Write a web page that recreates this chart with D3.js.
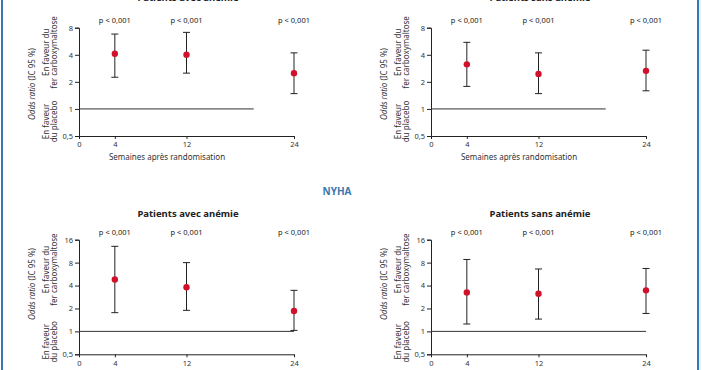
<!DOCTYPE html>
<html>
<head>
<meta charset="utf-8">
<script src="https://cdn.jsdelivr.net/npm/d3@7"></script>
<style>
  body { margin: 0; background: #fff; }
  svg { display: block; font-family: "Noto Sans", sans-serif; }
</style>
</head>
<body>
<svg id="chart" width="702" height="370"></svg>
<script>
// Data
const weeks = [4, 12, 24];
const xTicks = [0, 4, 12, 24];
const pLabels = ["p < 0,001", "p < 0,001", "p < 0,001"];
const topTicks = [0.5, 1, 2, 4, 8];
const bottomTicks = [0.5, 1, 2, 4, 8, 16];

const topLeftOR = [4.1, 4.0, 2.5];
const topLeftLow = [2.25, 2.5, 1.48];
const topLeftHigh = [6.8, 7.1, 4.2];

const topRightOR = [3.13, 2.45, 2.65];
const topRightLow = [1.78, 1.48, 1.59];
const topRightHigh = [5.5, 4.2, 4.5];

const withAnemiaOR = [4.8, 3.8, 1.85];
const withAnemiaLow = [1.76, 1.89, 1.03];
const withAnemiaHigh = [13.1, 8.0, 3.46];

const withoutAnemiaOR = [3.25, 3.12, 3.46];
const withoutAnemiaLow = [1.25, 1.45, 1.72];
const withoutAnemiaHigh = [8.8, 6.6, 6.7];

const svg = d3.select('#chart');

// Frame borders
svg.append('line').attr('x1', 2).attr('x2', 2).attr('y1', 0).attr('y2', 370)
    .attr('stroke', '#3a78b0').attr('stroke-width', 2);
svg.append('line').attr('x1', 698).attr('x2', 698).attr('y1', 0).attr('y2', 370)
    .attr('stroke', '#3a78b0').attr('stroke-width', 2);
svg.append('line').attr('x1', 700).attr('x2', 700).attr('y1', 0).attr('y2', 370)
    .attr('stroke', '#bfe6f3').attr('stroke-width', 1);

// Section heading
svg.append('text')
    .attr('x', 337).attr('y', 195)
    .attr('text-anchor', 'middle')
    .attr('font-size', 10).attr('font-weight', 'bold')
    .attr('fill', '#3a78b0')
    .text('NYHA');

function drawPanel(opt) {
    const g = svg.append('g');
    const x = d3.scaleLinear().domain([0, 24]).range([opt.left, opt.left + 215]);
    const y = d3.scaleLog().base(2)
        .domain([0.5, opt.ticks[opt.ticks.length - 1]])
        .range([opt.bottom, opt.top]);

    // title
    g.append('text')
        .attr('x', opt.left + 109).attr('y', opt.titleY)
        .attr('text-anchor', 'middle')
        .attr('font-size', 9.5).attr('font-weight', 'bold')
        .attr('fill', '#222')
        .text(opt.title);

    // y axis
    const yAxis = g.append('g')
        .attr('transform', `translate(${opt.left},0)`)
        .call(d3.axisLeft(y).tickValues(opt.ticks).tickSize(4).tickPadding(2)
            .tickFormat(d => d === 0.5 ? '0,5' : d));
    yAxis.select('.domain').attr('stroke', '#222');
    yAxis.selectAll('line').attr('stroke', '#222');
    yAxis.selectAll('text').attr('font-size', 7.5).attr('fill', '#333')
        .attr('font-family', '"Noto Sans", sans-serif');

    // x axis
    const xAxis = g.append('g')
        .attr('transform', `translate(0,${opt.bottom})`)
        .call(d3.axisBottom(x).tickValues(xTicks).tickSize(3).tickPadding(3)
            .tickSizeOuter(0));
    xAxis.select('.domain').attr('stroke', '#222');
    xAxis.selectAll('line').attr('stroke', '#222');
    xAxis.selectAll('text').attr('font-size', 7.5).attr('fill', '#333')
        .attr('font-family', '"Noto Sans", sans-serif');

    if (opt.showXTitle) {
        g.append('text')
            .attr('x', opt.left + 88).attr('y', opt.bottom + 24)
            .attr('text-anchor', 'middle')
            .attr('font-size', 8).attr('fill', '#333')
            .text('Semaines après randomisation');
    }

    // reference line at OR = 1
    g.append('line')
        .attr('x1', x(0)).attr('x2', x(opt.refEnd))
        .attr('y1', y(1)).attr('y2', y(1))
        .attr('stroke', '#333').attr('stroke-width', 1);

    // y labels
    g.append('text')
        .attr('transform', `translate(${opt.left - 44},${opt.oddsY}) rotate(-90)`)
        .attr('text-anchor', 'middle')
        .attr('font-size', 8).attr('fill', '#333')
        .html('<tspan font-style="italic">Odds ratio</tspan> (IC 95 %)');
    const fav = g.append('text')
        .attr('transform', `translate(${opt.left - 30},${(opt.top + y(1)) / 2 - 16}) rotate(-90)`)
        .attr('text-anchor', 'middle')
        .attr('font-size', 8).attr('fill', '#333');
    fav.append('tspan').attr('x', 0).attr('dy', 0).text('En faveur du');
    fav.append('tspan').attr('x', 0).attr('dy', 8).text('fer carboxymaltose');
    const pla = g.append('text')
        .attr('transform', `translate(${opt.left - 30},${(y(1) + opt.bottom) / 2 - 1}) rotate(-90)`)
        .attr('text-anchor', 'middle')
        .attr('font-size', 8).attr('fill', '#333');
    pla.append('tspan').attr('x', 0).attr('dy', 0).text('En faveur');
    pla.append('tspan').attr('x', 0).attr('dy', 8).text('du placebo');

    // p-values
    g.selectAll('.pval').data(weeks).enter().append('text')
        .attr('x', d => x(d)).attr('y', opt.top - 5)
        .attr('text-anchor', 'middle')
        .attr('font-size', 7.5).attr('fill', '#222')
        .text((d, i) => pLabels[i]);

    // error bars
    const rows = weeks.map((w, i) => ({w, or: opt.or[i], lo: opt.low[i], hi: opt.high[i]}));
    const bars = g.selectAll('.bar').data(rows).enter().append('g');
    bars.append('line')
        .attr('x1', d => x(d.w)).attr('x2', d => x(d.w))
        .attr('y1', d => y(d.lo)).attr('y2', d => y(d.hi))
        .attr('stroke', '#222').attr('stroke-width', 1);
    bars.append('line')
        .attr('x1', d => x(d.w) - 3.5).attr('x2', d => x(d.w) + 3.5)
        .attr('y1', d => y(d.hi)).attr('y2', d => y(d.hi))
        .attr('stroke', '#222').attr('stroke-width', 1);
    bars.append('line')
        .attr('x1', d => x(d.w) - 3.5).attr('x2', d => x(d.w) + 3.5)
        .attr('y1', d => y(d.lo)).attr('y2', d => y(d.lo))
        .attr('stroke', '#222').attr('stroke-width', 1);
    bars.append('circle')
        .attr('cx', d => x(d.w)).attr('cy', d => y(d.or))
        .attr('r', 3.2)
        .attr('fill', '#d1102a');
}

drawPanel({left: 79, top: 27.7, bottom: 136, ticks: topTicks, refEnd: 19.5,
    title: 'Patients avec anémie', titleY: 1, oddsY: 84, showXTitle: true,
    or: topLeftOR, low: topLeftLow, high: topLeftHigh});
drawPanel({left: 431, top: 27.7, bottom: 136, ticks: topTicks, refEnd: 19.5,
    title: 'Patients sans anémie', titleY: 1, oddsY: 84, showXTitle: true,
    or: topRightOR, low: topRightLow, high: topRightHigh});
drawPanel({left: 79, top: 239.7, bottom: 354.3, ticks: bottomTicks, refEnd: 24,
    title: 'Patients avec anémie', titleY: 216.5, oddsY: 284, showXTitle: false,
    or: withAnemiaOR, low: withAnemiaLow, high: withAnemiaHigh});
drawPanel({left: 431, top: 239.7, bottom: 354.3, ticks: bottomTicks, refEnd: 24,
    title: 'Patients sans anémie', titleY: 216.5, oddsY: 284, showXTitle: false,
    or: withoutAnemiaOR, low: withoutAnemiaLow, high: withoutAnemiaHigh});
</script>
</body>
</html>
